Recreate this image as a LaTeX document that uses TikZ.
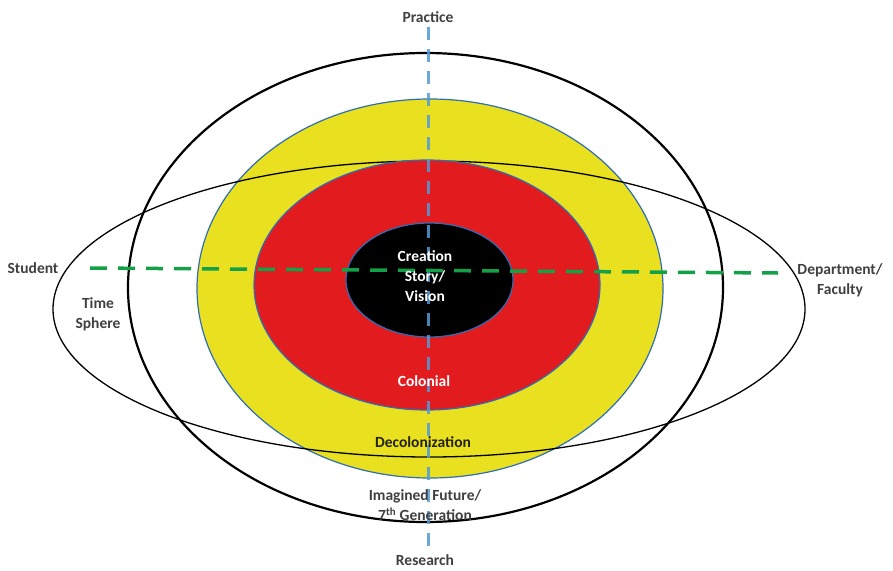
\documentclass[tikz,border=0pt]{standalone}
\usepackage{fontspec}
\setmainfont{Carlito}
\definecolor{ylw}{RGB}{233,225,32}
\definecolor{rd}{RGB}{226,27,30}
\definecolor{edge}{RGB}{46,110,180}
\definecolor{dblue}{RGB}{80,155,215}
\definecolor{dgreen}{RGB}{20,160,70}
\definecolor{lbl}{RGB}{64,64,64}
\tikzset{
  lab/.style={font=\bfseries\fontsize{15.5}{20}\selectfont, text=lbl, align=center, inner sep=0pt},
  wlab/.style={lab, text=white},
}
\begin{document}
\begin{tikzpicture}[x=1pt,y=-1pt]
\useasboundingbox (0,0) rectangle (893,570);
\fill[white] (0,0) rectangle (893,570);
% outer ellipse
\draw[line width=2.2pt] (425.5,287.5) ellipse [x radius=297.5, y radius=234.5];
% yellow
\draw[fill=ylw, draw=edge, line width=1.2pt] (430,288.5) ellipse [x radius=233, y radius=189.5];
% time sphere
\draw[line width=1.3pt] (429,309) ellipse [x radius=376, y radius=148];
% red
\draw[fill=rd, draw=edge, line width=1.2pt] (427,285) ellipse [x radius=173, y radius=125];
% black
\draw[fill=black, draw=edge, line width=1.2pt] (429.5,280) ellipse [x radius=83.5, y radius=57];
% dashed axes
\coordinate (vtop) at (428,27);
\coordinate (vbot) at (428,550);
\coordinate (hl) at (90,268);
\coordinate (hr) at (778,273);
\draw[dblue, opacity=0.85, line width=3pt, dash pattern=on 13pt off 9pt] (vtop) -- (vbot);
\draw[dgreen, line width=3.5pt, dash pattern=on 17pt off 11pt] (hl) -- (hr);
% labels
\node[lab] (practice) at (428,17) {Practice};
\node[lab] (research) at (425,560) {Research};
\node[lab] (student) at (33,268) {Student};
\node[lab] (dept) at (840,280) {Department/\\Faculty};
\node[lab] (time) at (98,314) {Time\\Sphere};
\node[wlab] (creation) at (425,276) {Creation\\Story/\\Vision};
\node[wlab] (colonial) at (424,381) {Colonial};
\node[lab, text=black!85!ylw] (decol) at (423,442) {Decolonization};
\node[lab] (future) at (425,505) {Imagined Future/\\7\textsuperscript{th} Generation};
\end{tikzpicture}
\end{document}
